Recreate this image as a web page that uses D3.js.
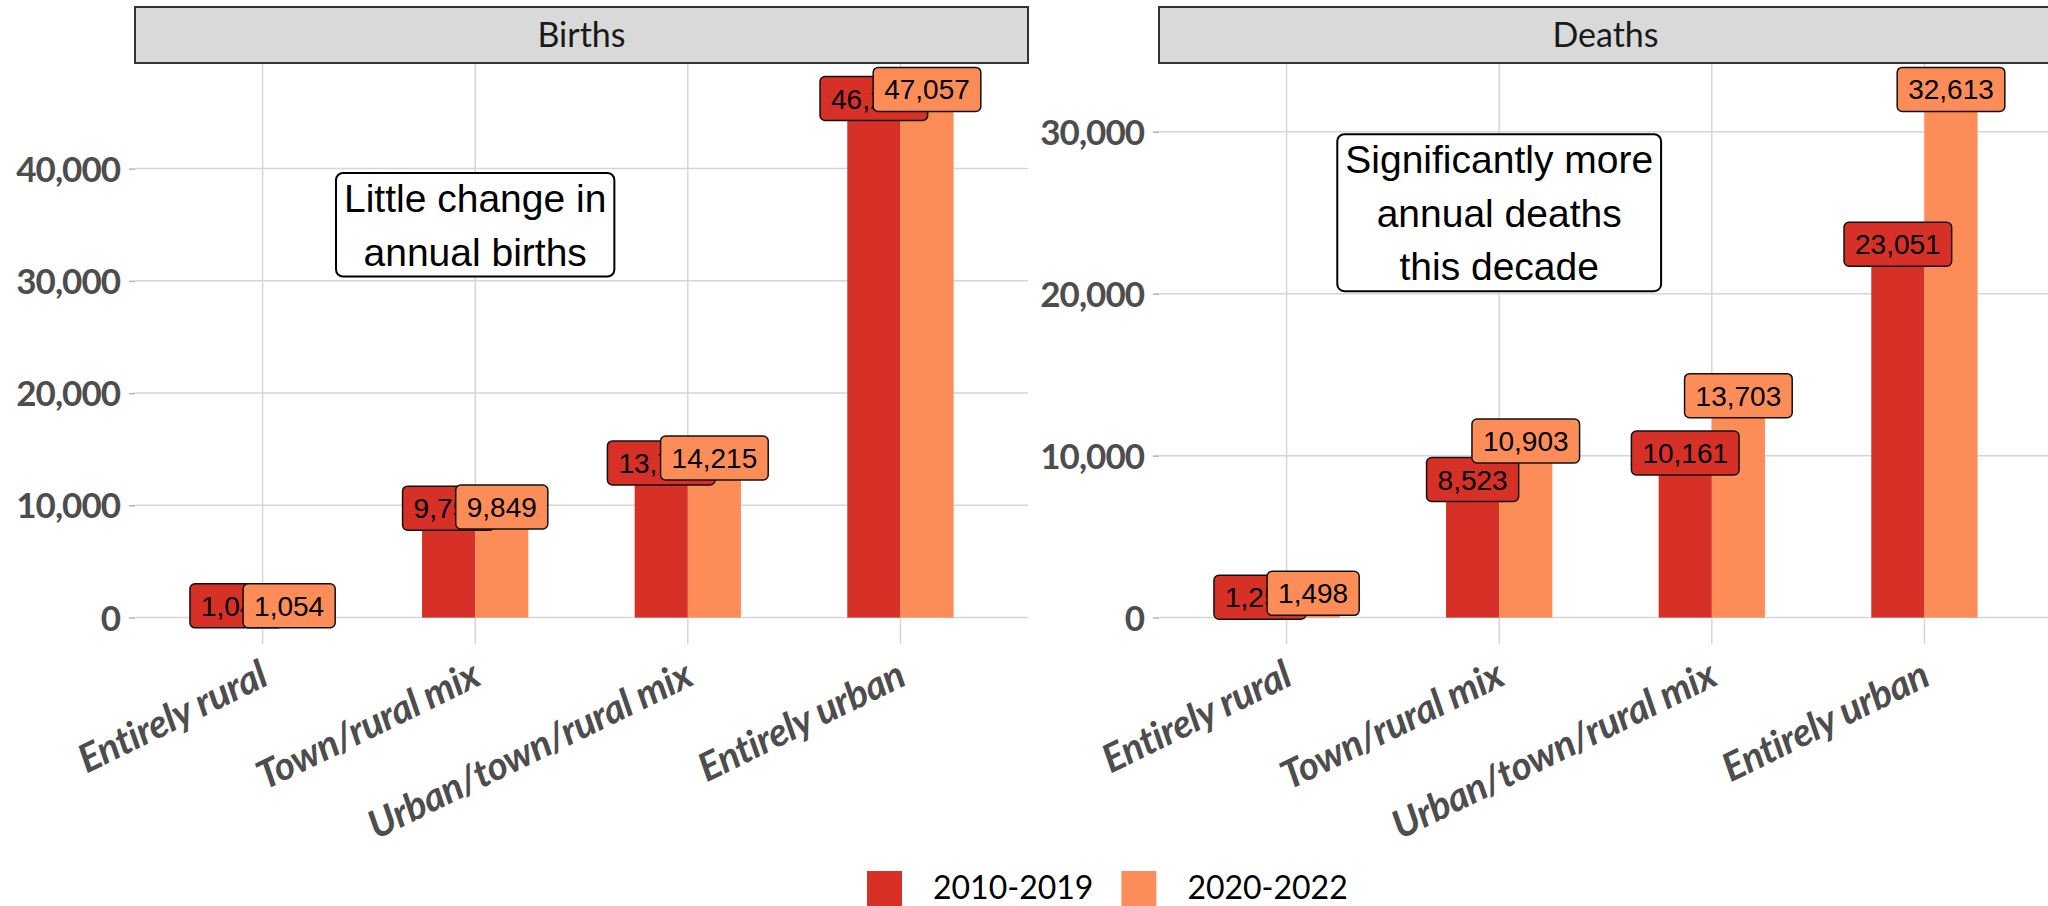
<!DOCTYPE html>
<html>
<head>
<meta charset="utf-8">
<style>
  body { margin: 0; background: #fff; }
  svg { display: block; }
  .tick-y { font-family: Lato, sans-serif; font-weight: 700; font-size: 35px; letter-spacing: -1px; fill: #4d4d4d; }
  .tick-x { font-family: Lato, sans-serif; font-weight: 700; font-style: italic; font-size: 39px; letter-spacing: -0.5px; fill: #4d4d4d; }
  .strip-text { font-family: Lato, sans-serif; font-size: 34px; fill: #1a1a1a; }
  .bar-label { font-family: "Liberation Sans", Arial, sans-serif; font-size: 28px; fill: #000; }
  .note { font-family: "Liberation Sans", Arial, sans-serif; font-size: 39px; fill: #000; }
  .legend-text { font-family: Lato, sans-serif; font-size: 32px; fill: #000; }
</style>
</head>
<body>
<svg id="chart" width="2048" height="906"></svg>
<script src="https://d3js.org/d3.v7.min.js"></script>
<script>
// data
var categories = ["Entirely rural", "Town/rural mix", "Urban/town/rural mix", "Entirely urban"];
var periods = ["2010-2019", "2020-2022"];
var colours = ["#d73027", "#fc8d59"];

var births2010 = [1046, 9752, 13780, 46248];
var births2020 = [1054, 9849, 14215, 47057];
var deaths2010 = [1253, 8523, 10161, 23051];
var deaths2020 = [1498, 10903, 13703, 32613];

var birthsTicks = [0, 10000, 20000, 30000, 40000];
var deathsTicks = [0, 10000, 20000, 30000];

var birthsNote = ["Little change in", "annual births"];
var deathsNote = ["Significantly more", "annual deaths", "this decade"];
var birthsNoteAt = {cat: "Town/rural mix", value: 35000};
var deathsNoteAt = {cat: "Town/rural mix", value: 25000};

var svg = d3.select("#chart");
var fmt = d3.format(",");

// panel geometry
var panelTop = 63, panelBottom = 644, stripTop = 7;
var panelW = 893;

function drawPanel(left, title, v2010, v2020, ticks, note, noteAt) {
    var g = svg.append("g");
    var maxV = d3.max(v2010.concat(v2020));

    var x = d3.scalePoint().domain(categories).range([left, left + panelW]).padding(0.6);
    var step = x.step();
    var xInner = d3.scaleBand().domain(periods).range([-step * 0.25, step * 0.25]);
    var y = d3.scaleLinear().domain([-0.05 * maxV, 1.05 * maxV]).range([panelBottom, panelTop]);

    // grid
    g.selectAll(".hgrid").data(ticks).enter().append("line")
        .attr("x1", left).attr("x2", left + panelW)
        .attr("y1", function(d) { return y(d); }).attr("y2", function(d) { return y(d); })
        .attr("stroke", "#d6d6d6").attr("stroke-width", 1.5);
    g.selectAll(".vgrid").data(categories).enter().append("line")
        .attr("x1", function(d) { return x(d); }).attr("x2", function(d) { return x(d); })
        .attr("y1", panelTop).attr("y2", panelBottom)
        .attr("stroke", "#d6d6d6").attr("stroke-width", 1.5);

    // y axis
    var yAxis = d3.axisLeft(y).tickValues(ticks).tickFormat(fmt).tickSize(6).tickPadding(9);
    var ya = g.append("g").attr("transform", "translate(" + left + ",0)").call(yAxis);
    ya.select(".domain").remove();
    ya.selectAll("line").attr("stroke", "#b3b3b3").attr("stroke-width", 1.5);
    ya.selectAll("text").attr("class", "tick-y").attr("dy", "0.36em");

    // x labels
    g.selectAll(".xlab").data(categories).enter().append("text")
        .attr("class", "tick-x")
        .attr("text-anchor", "end")
        .attr("transform", function(d) { return "translate(" + (x(d) - 5) + "," + (panelBottom + 15) + ") rotate(-26)"; })
        .attr("dy", "0.72em")
        .text(function(d) { return d; });

    // strip
    g.append("rect").attr("x", left).attr("y", stripTop).attr("width", panelW).attr("height", panelTop - stripTop)
        .attr("fill", "#d9d9d9").attr("stroke", "#333").attr("stroke-width", 2);
    g.append("text").attr("class", "strip-text").attr("x", left + panelW / 2).attr("y", (stripTop + panelTop) / 2)
        .attr("text-anchor", "middle").attr("dy", "0.35em").text(title);

    var rows = [];
    categories.forEach(function(c, i) {
        rows.push({cat: c, period: periods[0], value: v2010[i], col: colours[0]});
        rows.push({cat: c, period: periods[1], value: v2020[i], col: colours[1]});
    });

    g.selectAll(".bar").data(rows).enter().append("rect")
        .attr("x", function(d) { return x(d.cat) + xInner(d.period); })
        .attr("width", xInner.bandwidth())
        .attr("y", function(d) { return y(d.value); })
        .attr("height", function(d) { return y(0) - y(d.value); })
        .attr("fill", function(d) { return d.col; });

    // value labels, drawn one by one so later ones cover earlier ones
    rows.forEach(function(d) {
        var lg = g.append("g");
        var cx = x(d.cat) + xInner(d.period) + xInner.bandwidth() / 2;
        var cy = y(d.value);
        var box = lg.append("rect");
        var t = lg.append("text").attr("class", "bar-label").attr("x", cx).attr("y", cy)
            .attr("text-anchor", "middle").attr("dy", "0.36em").text(fmt(d.value));
        var w = t.node().getComputedTextLength() + 22;
        box.attr("x", cx - w / 2).attr("y", cy - 22).attr("width", w).attr("height", 44)
            .attr("rx", 5).attr("fill", d.col).attr("stroke", "#111").attr("stroke-width", 1.5);
    });

    // note box
    var ng = g.append("g");
    var nx = x(noteAt.cat), ny = y(noteAt.value);
    var lineH = 53.5;
    var nbox = ng.append("rect");
    var widest = 0;
    note.forEach(function(line, i) {
        var t = ng.append("text").attr("class", "note").attr("x", nx)
            .attr("y", ny + (i - (note.length - 1) / 2) * lineH)
            .attr("text-anchor", "middle").attr("dy", "0.36em").text(line);
        widest = Math.max(widest, t.node().getComputedTextLength());
    });
    var nh = (note.length - 1) * lineH + 50, nw = widest + 16;
    nbox.attr("x", nx - nw / 2).attr("y", ny - nh / 2).attr("width", nw).attr("height", nh)
        .attr("rx", 7).attr("fill", "#fff").attr("stroke", "#000").attr("stroke-width", 2);
}

drawPanel(135, "Births", births2010, births2020, birthsTicks, birthsNote, birthsNoteAt);
drawPanel(1159, "Deaths", deaths2010, deaths2020, deathsTicks, deathsNote, deathsNoteAt);

// legend
var legend = svg.append("g");
var lx = 867;
periods.forEach(function(p, i) {
    legend.append("rect").attr("x", lx).attr("y", 871).attr("width", 35).attr("height", 35).attr("fill", colours[i]);
    var t = legend.append("text").attr("class", "legend-text").attr("x", lx + 66).attr("y", 899).text(p);
    lx = lx + 66 + t.node().getComputedTextLength() + 28;
});
</script>
</body>
</html>
